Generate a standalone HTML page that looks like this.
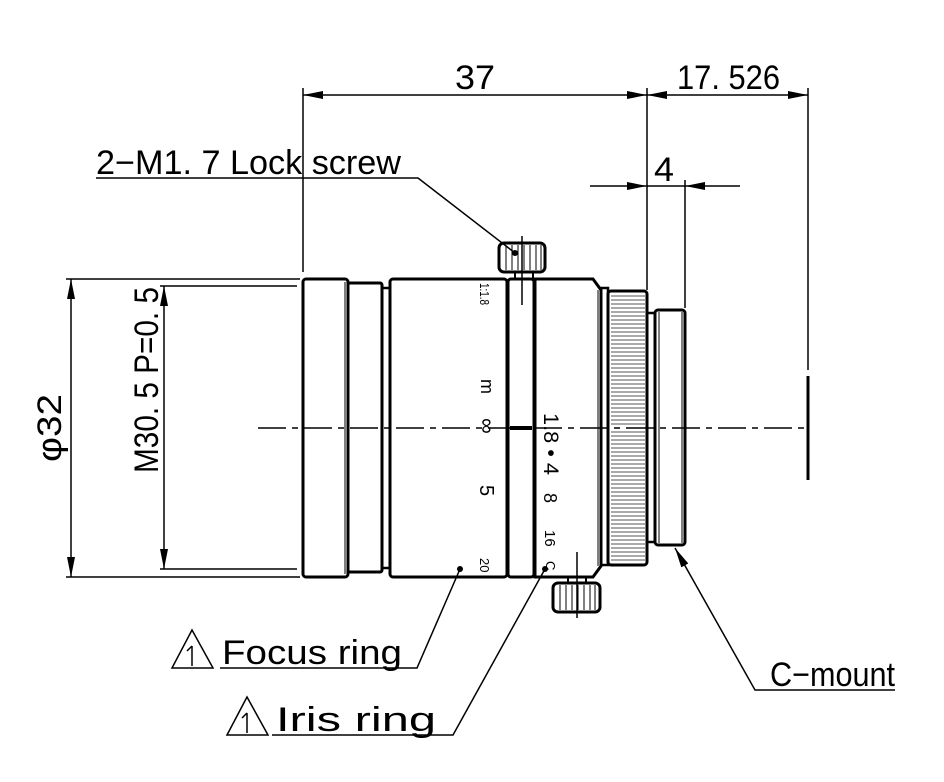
<!DOCTYPE html>
<html><head><meta charset="utf-8"><style>
html,body{margin:0;padding:0;background:#fff;}
svg{display:block;}
text{font-family:"Liberation Sans","Noto Sans CJK JP",sans-serif;fill:#000;}
</style></head><body>
<svg width="944" height="782" viewBox="0 0 944 782" xmlns="http://www.w3.org/2000/svg">
<defs>
<marker id="a" viewBox="0 0 20 8" refX="20" refY="4" markerWidth="20" markerHeight="8" markerUnits="userSpaceOnUse" orient="auto-start-reverse"><path d="M0,0 L20,4 L0,8 z" fill="#000"/></marker>
</defs>
<g stroke="#000" fill="none">
<line x1="303" y1="88" x2="303" y2="272" stroke-width="1.5"/>
<line x1="647" y1="88" x2="647" y2="290" stroke-width="1.5"/>
<line x1="685" y1="180" x2="685" y2="308" stroke-width="1.5"/>
<line x1="808" y1="88" x2="808" y2="370" stroke-width="1.5"/>
<line x1="808" y1="376" x2="808" y2="480" stroke-width="3"/>
<line x1="303" y1="95" x2="647" y2="95" stroke-width="1.5" marker-start="url(#a)" marker-end="url(#a)"/>
<line x1="647" y1="95" x2="808" y2="95" stroke-width="1.5" marker-start="url(#a)" marker-end="url(#a)"/>
<line x1="590" y1="186" x2="647" y2="186" stroke-width="1.5" marker-end="url(#a)"/>
<line x1="740" y1="186" x2="685" y2="186" stroke-width="1.5" marker-end="url(#a)"/>
<line x1="647" y1="186" x2="685" y2="186" stroke-width="1.5"/>
<line x1="66" y1="279" x2="300" y2="279" stroke-width="1.5"/>
<line x1="66" y1="577" x2="300" y2="577" stroke-width="1.5"/>
<line x1="160" y1="286" x2="297" y2="286" stroke-width="1.5"/>
<line x1="160" y1="569" x2="297" y2="569" stroke-width="1.5"/>
<line x1="71" y1="279" x2="71" y2="577" stroke-width="1.5" marker-start="url(#a)" marker-end="url(#a)"/>
<line x1="164" y1="286" x2="164" y2="569" stroke-width="1.5" marker-start="url(#a)" marker-end="url(#a)"/>
<line x1="258" y1="428" x2="808" y2="428" stroke-width="1.5" stroke-dasharray="28,6,6,6"/>
<rect x="303" y="279" width="45" height="298" rx="3" stroke-width="3"/>
<line x1="345" y1="282" x2="345" y2="574" stroke-width="1"/>
<rect x="348" y="283" width="34" height="289" rx="2" stroke-width="3"/>
<rect x="382" y="288" width="8" height="280" stroke-width="2.5"/>
<rect x="390" y="279" width="117" height="298" rx="3" stroke-width="3"/>
<rect x="508" y="279" width="26" height="298" rx="3" stroke-width="3"/>
<line x1="510" y1="428" x2="532" y2="428" stroke-width="4"/>
<path d="M535,279 L593,279 L601,290 L601,566 L593,577 L535,577 z" stroke-width="3"/>
<line x1="598" y1="290" x2="598" y2="566" stroke-width="1"/>
<rect x="601" y="288" width="7" height="277" stroke-width="2.5"/>
<rect x="608" y="291" width="39" height="274" rx="3" stroke-width="3"/>
<rect x="647" y="313" width="8" height="229" stroke-width="2.5"/>
<rect x="655" y="310" width="30" height="235" rx="3" stroke-width="3"/>
<line x1="659" y1="312" x2="659" y2="543" stroke-width="1"/>
<line x1="682" y1="312" x2="682" y2="543" stroke-width="1"/>
</g>
<g stroke="#555" stroke-width="1">
<path d="M611,296H645M611,300H645M611,304H645M611,308H645M611,312H645M611,316H645M611,320H645M611,324H645M611,328H645M611,332H645M611,336H645M611,340H645M611,344H645M611,348H645M611,352H645M611,356H645M611,360H645M611,364H645M611,368H645M611,372H645M611,376H645M611,380H645M611,384H645M611,388H645M611,392H645M611,396H645M611,400H645M611,404H645M611,408H645M611,412H645M611,416H645M611,420H645M611,424H645M611,432H645M611,436H645M611,440H645M611,444H645M611,448H645M611,452H645M611,456H645M611,460H645M611,464H645M611,468H645M611,472H645M611,476H645M611,480H645M611,484H645M611,488H645M611,492H645M611,496H645M611,500H645M611,504H645M611,508H645M611,512H645M611,516H645M611,520H645M611,524H645M611,528H645M611,532H645M611,536H645M611,540H645M611,544H645M611,548H645M611,552H645M611,556H645M611,560H645"/>
</g>
<g stroke="#000" fill="none">
<rect x="499" y="243" width="46" height="29" rx="5" stroke-width="3"/>
<path d="M506,245V270M512,245V270M518,245V270M524,245V270M530,245V270M536,245V270M541,245V270" stroke-width="1"/>
<rect x="515" y="272" width="18" height="7" stroke-width="2"/>
<line x1="522" y1="236" x2="522" y2="305" stroke-width="1.5"/>
<rect x="553" y="583" width="47" height="29" rx="5" stroke-width="3"/>
<path d="M560,585V610M566,585V610M572,585V610M578,585V610M584,585V610M590,585V610M595,585V610" stroke-width="1"/>
<rect x="568" y="577" width="18" height="6" stroke-width="2"/>
<line x1="577" y1="552" x2="577" y2="618" stroke-width="1.5"/>
<polyline points="96,178 418,178 515,253" stroke-width="1.5"/>
<polyline points="220,668 417,668 460,569" stroke-width="1.5"/>
<polyline points="272,735 453,735 545,569" stroke-width="1.5"/>
<polyline points="895,690 755,690 675,548" stroke-width="1.5" marker-end="url(#a)"/>
<path d="M172,668 L192,630 L213,668 z" stroke-width="1.5"/>
<path d="M227,735 L247,697 L268,735 z" stroke-width="1.5"/>
<line x1="192" y1="646" x2="192" y2="666" stroke-width="1.5"/>
<polyline points="187,651 192,646" stroke-width="1.5"/>
<line x1="247" y1="713" x2="247" y2="733" stroke-width="1.5"/>
<polyline points="242,718 247,713" stroke-width="1.5"/>
</g>
<circle cx="515" cy="253" r="3"/><circle cx="460" cy="569" r="3"/><circle cx="545" cy="569" r="3"/>
<text x="455" y="89" font-size="34" textLength="40" lengthAdjust="spacingAndGlyphs">37</text>
<text x="677" y="89" font-size="34" textLength="103" lengthAdjust="spacingAndGlyphs">17. 526</text>
<text x="654" y="181" font-size="34" textLength="20" lengthAdjust="spacingAndGlyphs">4</text>
<text x="96" y="174" font-size="34" textLength="305" lengthAdjust="spacingAndGlyphs">2−M1. 7 Lock screw</text>
<text x="222" y="664" font-size="34" textLength="180" lengthAdjust="spacingAndGlyphs">Focus ring</text>
<text x="276" y="731" font-size="34" textLength="160" lengthAdjust="spacingAndGlyphs">Iris ring</text>
<text x="770" y="686" font-size="34" textLength="125" lengthAdjust="spacingAndGlyphs">C−mount</text>
<text transform="translate(61,462) rotate(-90)" font-size="34" textLength="68" lengthAdjust="spacingAndGlyphs">φ32</text>
<text transform="translate(158,473) rotate(-90)" font-size="34" textLength="186" lengthAdjust="spacingAndGlyphs">M30. 5 P=0. 5</text>
<g font-size="16">
<text transform="translate(480,283) rotate(90)" textLength="22" lengthAdjust="spacingAndGlyphs" font-size="13">1:1.8</text>
<text transform="translate(481,379) rotate(90)" font-size="18">m</text>
<text transform="translate(480,418) rotate(90)" font-size="22">∞</text>
<text transform="translate(480,485) rotate(90)" font-size="20">5</text>
<text transform="translate(480,558) rotate(90)" font-size="13">20</text>
<text transform="translate(544,413) rotate(90)" font-size="21" textLength="62" lengthAdjust="spacingAndGlyphs">1.8 • 4</text>
<text transform="translate(544,493) rotate(90)" font-size="18">8</text>
<text transform="translate(545,530) rotate(90)" font-size="15">16</text>
<text transform="translate(546,561) rotate(90)" font-size="13">C</text>
</g>
</svg>
</body></html>
